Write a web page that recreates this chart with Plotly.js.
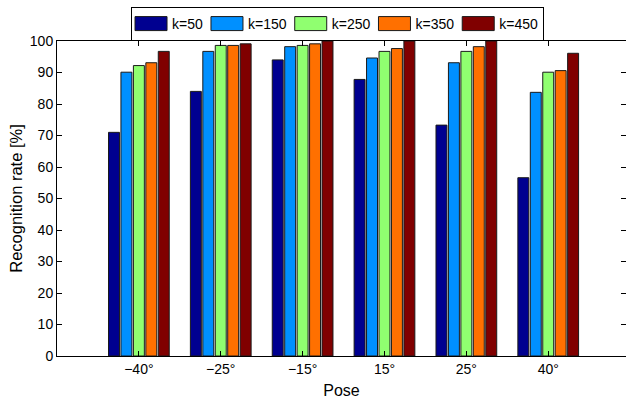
<!DOCTYPE html>
<html>
<head>
<meta charset="utf-8">
<script src="https://cdn.plot.ly/plotly-3.0.1.min.js"></script>
<style>html,body{margin:0;padding:0;background:#fff;}</style>
</head>
<body>
<div id="chart" style="width:626px;height:402px;"></div>
<script>
const poses = ["−40°", "−25°", "−15°", "15°", "25°", "40°"];
const seriesNames = ["k=50", "k=150", "k=250", "k=350", "k=450"];
const k50  = [71.0, 84.0, 94.0, 87.8, 73.3, 56.6];
const k150 = [90.1, 96.7, 98.2, 94.6, 93.1, 83.7];
const k250 = [92.2, 98.6, 98.6, 96.7, 96.7, 90.1];
const k350 = [93.1, 98.6, 99.1, 97.6, 98.2, 90.6];
const k450 = [96.7, 99.1, 100.0, 100.0, 100.0, 96.1];
const seriesValues = [k50, k150, k250, k350, k450];
const colors = ["#000090", "#0090FF", "#90FF70", "#FF7000", "#800000"];

const FONT = "Liberation Sans, Arial, sans-serif";

const traces = seriesNames.map((name, i) => ({
  type: "bar",
  name: name,
  x: poses,
  y: seriesValues[i],
  marker: { color: colors[i], line: { color: "#1a1a1a", width: 1 } }
}));

const layout = {
  width: 626,
  height: 402,
  margin: { l: 57, r: 0, t: 41, b: 46 },
  paper_bgcolor: "#ffffff",
  plot_bgcolor: "#ffffff",
  font: { family: FONT, size: 14, color: "#000" },
  barmode: "group",
  bargap: 0.24,
  bargroupgap: 0.12,
  showlegend: true,
  legend: {
    orientation: "h",
    x: 0.493, xanchor: "center",
    y: 1.108, yanchor: "top",
    bordercolor: "#000", borderwidth: 1,
    bgcolor: "#fff",
    font: { family: FONT, size: 14 },
    itemwidth: 30,
    tracegroupgap: 0
  },
  xaxis: {
    type: "category",
    range: [-1, 5.95],
    showline: true, linecolor: "#000", linewidth: 1,
    mirror: "ticks",
    ticks: "inside", ticklen: 5, tickcolor: "#000",
    showgrid: false, zeroline: false,
    tickfont: { family: FONT, size: 14 },
    title: { text: "Pose", font: { family: FONT, size: 16 }, standoff: 9 }
  },
  yaxis: {
    range: [0, 100],
    dtick: 10,
    showline: true, linecolor: "#000", linewidth: 1,
    mirror: "ticks",
    ticks: "inside", ticklen: 5, tickcolor: "#000",
    showgrid: false, zeroline: false,
    tickfont: { family: FONT, size: 14 },
    title: { text: "Recognition rate [%]", font: { family: FONT, size: 16.5 }, standoff: 3 }
  }
};

Plotly.newPlot("chart", traces, layout, { displayModeBar: false, staticPlot: true }).then(gd => {
  gd.querySelectorAll(".legend .legendpoints path").forEach(p => {
    p.setAttribute("d", "M15,7H-17V-7H15Z");
  });
});
</script>
</body>
</html>
